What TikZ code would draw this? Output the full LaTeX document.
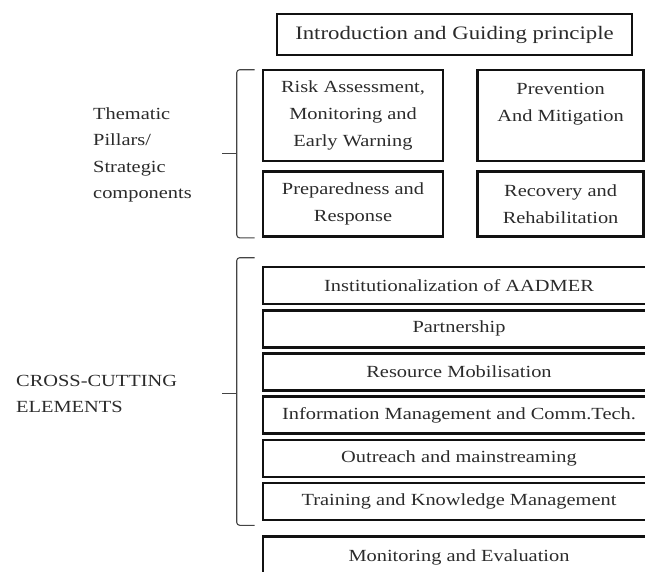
\documentclass[tikz,border=0pt]{standalone}
\usepackage{fontspec}
\setmainfont[FakeStretch=1.2]{Liberation Serif}
\usepackage{tikz}
\usetikzlibrary{positioning,calc}
\definecolor{ink}{HTML}{111111}
\definecolor{txt}{HTML}{2B2B2B}
\definecolor{brc}{HTML}{444444}
\tikzset{box/.style={draw=ink,line width=2.6pt,minimum width=180pt,minimum height=37pt,align=center,inner sep=0pt,text=txt,font=\fontsize{17}{27}\selectfont},wide/.style={box,minimum width=392pt},brace/.style={draw=brc,line width=1.1pt,rounded corners=3pt},lbl/.style={anchor=west,align=left,inner sep=0pt,text=txt,font=\fontsize{17}{26.5}\selectfont}}

\begin{document}
\begin{tikzpicture}[x=1pt,y=-1pt,node distance=8pt and 32pt]
\clip (0,0) rectangle (645,571);
\node[box,minimum width=355pt,minimum height=41pt,font=\fontsize{19}{24}\selectfont] (intro) at (454.5,34.5) {Introduction and Guiding principle};
\node[box,minimum height=91pt] (risk) at (353,115.5) {Risk Assessment,\\Monitoring and\\Early Warning};
\node[box,minimum width=166pt,minimum height=91pt,right=of risk] (prev) {Prevention\\And Mitigation\\~};
\node[box,minimum height=65pt,below=of risk] (prep) {Preparedness and\\Response};
\node[box,minimum width=166pt,minimum height=65pt,below=of prev] (recov) {Recovery and\\Rehabilitation};
\node[lbl] (thematic) at (93,155) {Thematic\\Pillars/\\Strategic\\components};
% cross-cutting stack
\node[wide] (inst) at (459,285.5) {Institutionalization of AADMER};
\node[wide,below=3.6pt of inst] (part) {Partnership};
\node[wide,below=3.6pt of part] (resmob) {Resource Mobilisation};
\node[wide,below=3.6pt of resmob] (info) {Information Management and Comm.Tech.};
\node[wide,below=3.6pt of info] (outreach) {Outreach and mainstreaming};
\node[wide,below=3.6pt of outreach] (train) {Training and Knowledge Management};
\node[wide,minimum height=42pt,below=14pt of train] (monit) {Monitoring and Evaluation};
\node[lbl] (cross) at (16,394) {CROSS-CUTTING\\ELEMENTS};
% braces
\coordinate (b1) at ($(risk.north west)!0.5!(prep.south west)+(-25,0)$);
\coordinate (b2) at ($(inst.north west)!0.5!(train.south west)+(-25,0)$);
\draw[brace] ($(risk.north west)+(-7,1)$) -| (b1) |- ($(prep.south west)+(-7,0)$);
\draw[brace] (b1) -- ++(-15,0);
\draw[brace] ($(inst.north west)+(-7,-8)$) -| (b2) |- ($(train.south west)+(-7,4)$);
\draw[brace] (b2) -- ++(-15,0);
\end{tikzpicture}
\end{document}
